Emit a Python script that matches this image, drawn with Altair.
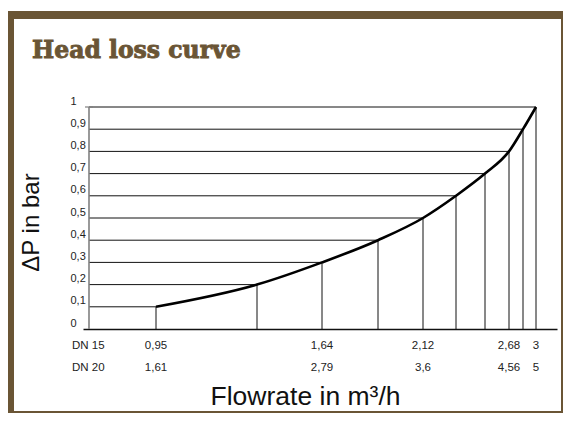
import altair as alt
import pandas as pd

# ---- data ----
levels = [0.1, 0.2, 0.3, 0.4, 0.5, 0.6, 0.7, 0.8, 0.9, 1.0]          # ΔP in bar
curve_x = [67, 168, 233, 289, 334, 367, 396, 420, 434, 447]          # position along flow axis (chart units)
y_ticks = [0, 0.1, 0.2, 0.3, 0.4, 0.5, 0.6, 0.7, 0.8, 0.9, 1.0]
label_levels = [0.1, 0.3, 0.5, 0.8, 1.0]
dn15_labels = ["0,95", "1,64", "2,12", "2,68", "3"]
dn20_labels = ["1,61", "2,79", "3,6", "4,56", "5"]
row_names = ["DN 15", "DN 20"]
chart_title = ["Head loss curve"]

BROWN = "#6a5535"
INK = "#111111"
FONT = "Liberation Sans"

curve = pd.DataFrame({"x": curve_x, "level": levels, "x0": 0, "y0": 0.0})
lab_x = [curve_x[levels.index(v)] for v in label_levels]
labels = pd.DataFrame({"x": lab_x, "dn15": dn15_labels, "dn20": dn20_labels})
one = pd.DataFrame({"a": [0]})

xs = alt.Scale(domain=[-6, 468], nice=False, zero=False)
ys = alt.Scale(domain=[0, 1], nice=False, zero=False)

x_axis = alt.Axis(
    title="Flowrate in m³/h", domain=True, domainColor=INK, domainWidth=1.5,
    ticks=False, labels=False, grid=False,
    titleFont=FONT, titleFontSize=26.5, titleFontWeight="normal", titleColor=INK,
    titleX=222, titleY=75, titleAlign="center", titleBaseline="alphabetic",
)
y_axis = alt.Axis(
    title="ΔP in bar", values=y_ticks, domain=False, ticks=False, tickSize=0, grid=False,
    labelExpr="replace(format(datum.value, '.1~f'), '.', ',')",
    labelFont=FONT, labelFontSize=11, labelColor="#222222",
    labelAlign="left", labelPadding=13, labelOffset=-6,
    titleFont=FONT, titleFontSize=24, titleFontWeight="normal", titleColor=INK,
    titleX=-45, titleY=115, titleAngle=270, titleAlign="center", titleBaseline="alphabetic",
)


def X(field):
    return alt.X(field, type="quantitative", scale=xs, axis=x_axis)


def Y(field):
    return alt.Y(field, type="quantitative", scale=ys, axis=y_axis)


base = alt.Chart(curve)

h_lines = base.mark_rule(color=INK, strokeWidth=1).encode(
    x=X("x0"), x2="x", y=Y("level")
)
v_lines = base.mark_rule(color=INK, strokeWidth=1).encode(
    x=X("x"), y=Y("y0"), y2="level"
)
line = base.mark_line(color="#000000", strokeWidth=2.6, interpolate="monotone").encode(
    x=X("x"), y=Y("level")
)

axis_df = pd.DataFrame({"x": [0], "x0": [-4], "x1": [4], "y0": [0.0], "y1": [1.0]})
y_axis_line = alt.Chart(axis_df).mark_rule(color="#808080", strokeWidth=1.6).encode(
    x=X("x"), y=Y("y0"), y2="y1"
)
top_tick = alt.Chart(axis_df).mark_rule(color="#808080", strokeWidth=1.2).encode(
    x=X("x0"), x2="x1", y=Y("y1")
)

row1 = alt.Chart(labels).mark_text(font=FONT, fontSize=11.5, color="#222222", baseline="middle").encode(
    x=X("x"), y=alt.value(239), text="dn15:N"
)
row2 = alt.Chart(labels).mark_text(font=FONT, fontSize=11.5, color="#222222", baseline="middle").encode(
    x=X("x"), y=alt.value(261), text="dn20:N"
)
names = alt.Chart(pd.DataFrame({"name": row_names, "row": [239, 261]})).mark_text(
    font=FONT, fontSize=11.5, color="#222222", align="left", baseline="middle"
).encode(x=alt.value(-11), y=alt.Y("row:Q", scale=None), text="name:N")

title = alt.Chart(pd.DataFrame({"t": chart_title})).mark_text(
    font="DejaVu Serif", fontSize=23.5, fontWeight="bold", color=BROWN,
    stroke=BROWN, strokeWidth=0.9,
    align="left", baseline="alphabetic",
).encode(x=alt.value(-51), y=alt.value(-49), text="t:N")

# decorative frame (drawn inside the 555x405 page area)
frame_left = alt.Chart(one).mark_rect(color=BROWN).encode(
    x=alt.value(-75), x2=alt.value(-69), y=alt.value(-96), y2=alt.value(306))
frame_top = alt.Chart(one).mark_rect(color=BROWN).encode(
    x=alt.value(-75), x2=alt.value(480), y=alt.value(-96), y2=alt.value(-88))
frame_right = alt.Chart(one).mark_rect(color=BROWN).encode(
    x=alt.value(478), x2=alt.value(480), y=alt.value(-96), y2=alt.value(306))
frame_bottom = alt.Chart(one).mark_rect(color=BROWN).encode(
    x=alt.value(-75), x2=alt.value(480), y=alt.value(304), y2=alt.value(306))

chart = alt.layer(
    h_lines, v_lines, y_axis_line, top_tick, line, row1, row2, names, title,
    frame_left, frame_top, frame_right, frame_bottom,
).properties(
    width=474, height=222,
    autosize=alt.AutoSizeParams(type="none"),
    padding={"left": 75, "top": 99, "right": 6, "bottom": 84},
).configure(background="white").configure_view(stroke=None)

chart.save("out.html", embed_options={"renderer": "svg", "actions": False})
